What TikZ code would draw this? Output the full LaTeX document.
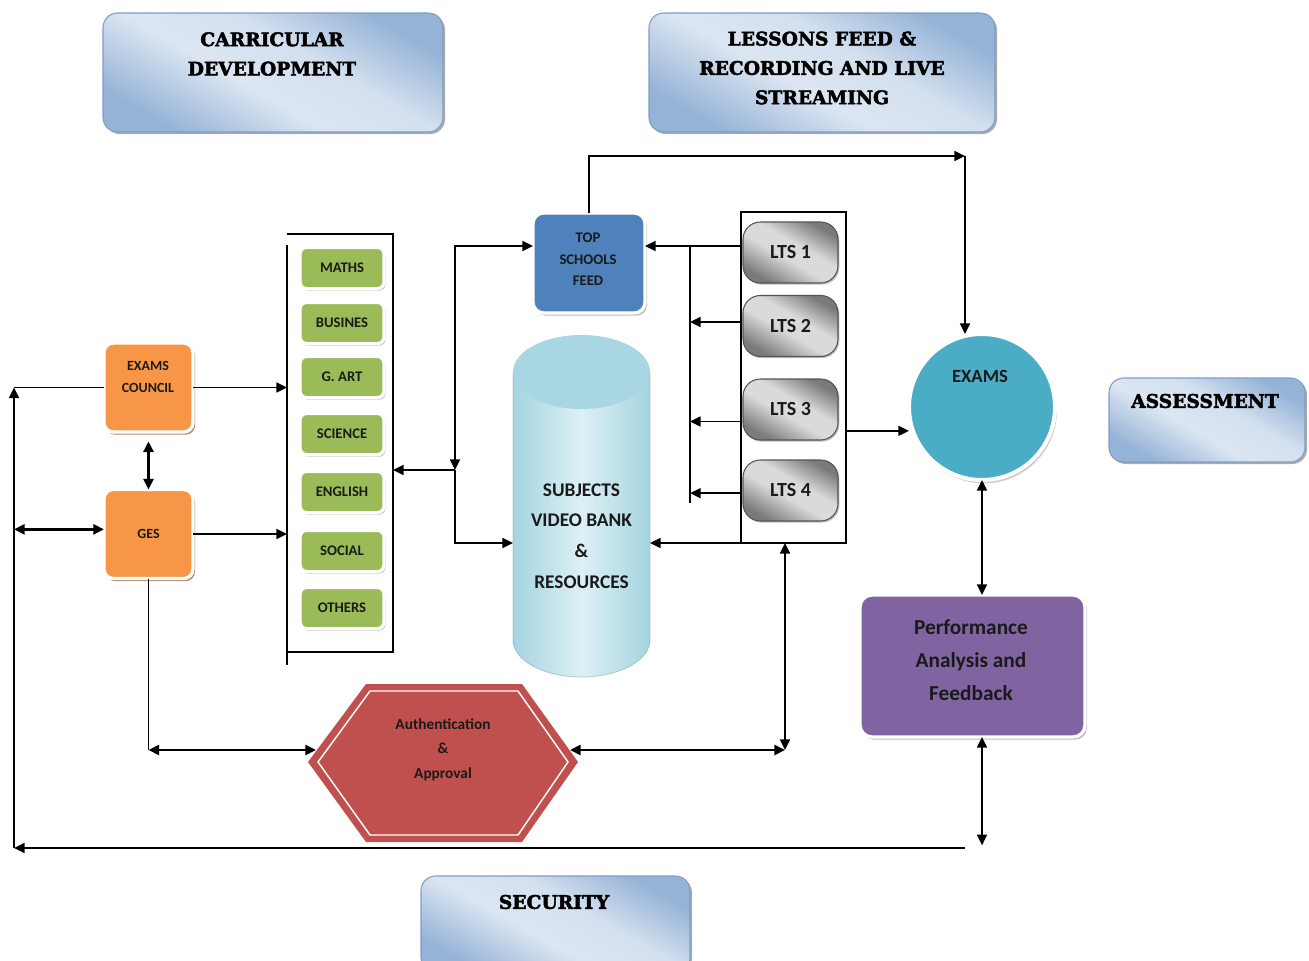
\documentclass[tikz,border=0pt]{standalone}
\usepackage{fontspec}
\setmainfont{Carlito}
\newfontfamily\ttlfont[BoldFeatures={FakeBold=2.5}]{DejaVu Serif}
\usetikzlibrary{arrows.meta,shadows,calc}
\definecolor{tlight}{HTML}{DCE6F2}
\definecolor{tdark}{HTML}{95B3D7}
\definecolor{tborder}{HTML}{7F9DC6}
\definecolor{sgreen}{HTML}{9BBB59}
\definecolor{sorange}{HTML}{F79646}
\definecolor{sblue}{HTML}{4F81BD}
\definecolor{steal}{HTML}{4BACC6}
\definecolor{spurple}{HTML}{8064A2}
\definecolor{sred}{HTML}{C0504D}
\definecolor{cylA}{HTML}{A5D4E1}
\definecolor{cylB}{HTML}{DDF0F5}
\definecolor{cylTop}{HTML}{A8D6E3}
\definecolor{gdark}{HTML}{7A7A7A}
\definecolor{glight}{HTML}{DADADA}
\definecolor{txt}{HTML}{1A1A1A}
\pgfdeclarehorizontalshading{tband}{100bp}{color(0bp)=(tdark); color(25bp)=(tdark); color(44bp)=(tlight); color(58bp)=(tlight!88!tdark); color(75bp)=(tdark); color(100bp)=(tdark)}
\pgfdeclarehorizontalshading{gband}{100bp}{color(0bp)=(gdark); color(25bp)=(gdark); color(45bp)=(glight); color(57bp)=(glight); color(75bp)=(gdark); color(100bp)=(gdark)}
\begin{document}
\begin{tikzpicture}[x=0.75pt,y=-0.75pt,
  tip/.tip={Triangle[length=8pt,width=7.5pt]},
  ln/.style={line width=1.2pt, draw=black},
  arr/.style={ln, -tip},
  arr2/.style={ln, tip-tip},
  dbl/.style={line width=2pt, tip-tip},
  ttl/.style={rounded corners=11pt, draw=tborder, line width=0.8pt, shading=tband, shading angle=60,
    drop shadow={shadow xshift=1.5pt, shadow yshift=-1.5pt, fill=black!55, opacity=0.6},
    inner sep=0pt, outer sep=0pt},
  ttltext/.style={font=\ttlfont\bfseries\fontsize{14}{22}\selectfont, align=center, text=black},
  boxbase/.style={draw=white, line width=2.5pt, inner sep=0pt, outer sep=0pt, text=txt, align=center},
  subj/.style={boxbase, fill=sgreen, rounded corners=5pt, minimum width=63pt, minimum height=31pt,
    font=\bfseries\fontsize{11}{13}\selectfont,
    drop shadow={shadow xshift=1.2pt, shadow yshift=-1.5pt, fill=black!45, opacity=0.6}},
  obox/.style={boxbase, fill=sorange, rounded corners=7pt, minimum width=66.75pt, minimum height=66.75pt,
    font=\bfseries\fontsize{10.5}{16.5}\selectfont,
    drop shadow={shadow xshift=1.5pt, shadow yshift=-2pt, fill=sorange!60!black, opacity=0.7}},
  stext/.style={font=\bfseries\fontsize{10.5}{16.5}\selectfont, align=center, text=txt},
  lts/.style={draw=gdark!70!black, line width=0.8pt, rounded corners=13pt, shading=gband, shading angle=60,
    minimum width=71.25pt, minimum height=45.75pt, inner sep=0pt, outer sep=0pt,
    font=\bfseries\fontsize{15}{17}\selectfont, text=txt,
    drop shadow={shadow xshift=1pt, shadow yshift=-1.2pt, fill=black!50, opacity=0.5}}
]
\useasboundingbox (0,0) rectangle (1309,960);

% ---------- title boxes ----------
\node[ttl, minimum width=255pt, minimum height=89.25pt] (cd) at (273,72.5) {};
\node[ttltext] (cdt) at (272,54) {CARRICULAR\\DEVELOPMENT};
\node[ttl, minimum width=259.5pt, minimum height=89.25pt] (lf) at (822,72.5) {};
\node[ttltext] (lft) at (822,68) {LESSONS FEED \&\\RECORDING AND LIVE\\STREAMING};
\node[ttl, minimum width=147pt, minimum height=63pt] (as) at (1207,420) {};
\node[ttltext] (ast) at (1205,401) {ASSESSMENT};
\node[ttl, minimum width=201.75pt, minimum height=72pt] (se) at (555.5,924) {};
\node[ttltext] (set) at (554,902) {SECURITY};

% ---------- subjects frame ----------
\coordinate (sfTL) at (287,234);
\coordinate (sfTR) at (393,234);
\coordinate (sfBR) at (393,652);
\coordinate (sfBL) at (287,652);
\coordinate (sfLT) at (287,245);
\coordinate (sfLB) at (287,665);
\draw[ln] (sfTL) -- (sfTR) -- (sfBR) -- (sfBL);
\draw[ln] (sfLT) -- (sfLB);

\node[subj] (maths) at (342,268) {MATHS};
\node[subj] (busi) at (342,323) {BUSINES};
\node[subj] (gart) at (342,377) {G. ART};
\node[subj] (sci) at (342,434) {SCIENCE};
\node[subj] (eng) at (342,492) {ENGLISH};
\node[subj] (soc) at (342,551) {SOCIAL};
\node[subj] (oth) at (342,608) {OTHERS};

% ---------- orange boxes ----------
\node[obox] (ec) at (148.5,387.5) {};
\node[stext] (ect) at (148,377) {EXAMS\\COUNCIL};
\node[obox] (ges) at (148.5,534) {GES};

% ---------- top schools feed ----------
\node[boxbase, fill=sblue, rounded corners=8pt, minimum width=84pt, minimum height=75pt,
  font=\bfseries\fontsize{11}{16}\selectfont,
  drop shadow={shadow xshift=1.5pt, shadow yshift=-2pt, fill=black!45, opacity=0.6}] (tsf) at (589,263) {};
\node[stext, font=\bfseries\fontsize{11}{16}\selectfont] (tsft) at (588,259.5) {TOP\\SCHOOLS\\FEED};

% ---------- cylinder ----------
\path[left color=cylA, right color=cylA, middle color=cylB]
  (513,372) -- (513,640) arc[start angle=180, end angle=360, x radius=51.375pt, y radius=27.75pt] -- (650,372) -- cycle;
\draw[cylA!75!black, line width=0.6pt, opacity=0.5]
  (650,372) -- (650,640) arc[start angle=0, end angle=-180, x radius=51.375pt, y radius=27.75pt] -- (513,372);
\fill[cylTop] (581.5,372) ellipse[x radius=51.375pt, y radius=27.75pt];
\node[font=\bfseries\fontsize{14.5}{23}\selectfont, align=center, text=txt, minimum width=102.75pt,
  inner sep=0pt, outer sep=0pt] (cyl) at (581.5,536) {SUBJECTS\\VIDEO BANK\\\&\\RESOURCES};

% ---------- hexagon ----------
\fill[sred] (308,762) -- (366,684) -- (522,684) -- (578,762) -- (522,842) -- (366,842) -- cycle;
\draw[white, line width=1.1pt] (318,762) -- (370,691) -- (518,691) -- (568,762) -- (518,835) -- (370,835) -- cycle;
\node[font=\bfseries\fontsize{11.5}{18.4}\selectfont, align=center, text=txt] (hex) at (443,749.5) {Authentication\\\&\\Approval};
\coordinate (hexW) at (316,750);
\coordinate (hexE) at (570,750);

% ---------- LTS ----------
\node[draw, line width=0.9pt, minimum width=78.75pt, minimum height=248.25pt, inner sep=0pt, outer sep=0pt] (ltsF) at (793.5,377.5) {};
\node[lts] (lts1) at (790.5,252.5) {LTS 1};
\node[lts] (lts2) at (790.5,326) {LTS 2};
\node[lts] (lts3) at (790.5,409.5) {LTS 3};
\node[lts] (lts4) at (790.5,490.5) {LTS 4};

% ---------- exams ----------
\node[circle, fill=steal, draw=white, line width=3pt, minimum size=109.5pt, inner sep=0pt, outer sep=0pt,
  drop shadow={shadow xshift=1.5pt, shadow yshift=-2.5pt, fill=black!40, opacity=0.5}] (exams) at (982,407) {};
\node[font=\bfseries\fontsize{14}{16}\selectfont, text=txt] (examst) at (980,376) {EXAMS};

% ---------- performance ----------
\node[boxbase, fill=spurple, rounded corners=9pt, minimum width=168.75pt, minimum height=106.5pt,
  drop shadow={shadow xshift=1.5pt, shadow yshift=-2pt, fill=black!45, opacity=0.6}] (perf) at (972.5,666) {};
\node[font=\bfseries\fontsize{16}{25}\selectfont, align=center, text=txt] (perft) at (971,660) {Performance\\Analysis and\\Feedback};

% ---------- coordinates ----------
\coordinate (busT) at (690,246);
\coordinate (busB) at (690,503);
\coordinate (J) at (455,470);
\coordinate (TR) at (965,156);
\coordinate (BL) at (14,848);
\coordinate (gesB) at (148.5,750);
\coordinate (R1) at (785,750);
\coordinate (BR) at (965,848);

% ---------- connectors ----------
\draw[arr] (ec.east) -- (ec.east -| sfBL);
\draw[arr] (ges.east) -- (ges.east -| sfBL);
\draw[dbl] ([yshift=-7pt]ec.south) -- (ges.north);
\draw[ln] (ec.west) -- (ec.west -| BL);
\draw[arr] (BL) -- (ec.west -| BL);
\draw[dbl] ([yshift=3.5pt]ges.west) -- ([yshift=3.5pt]ges.west -| BL);
\draw[ln] (ges.south) -- (gesB);
\draw[dbl] (gesB) -- (hexW);
\draw[dbl] (hexE) -- (R1);
\draw[arr2] (ltsF.south -| R1) -- (R1);
\draw[arr] (BR) -- (BL);
\draw[arr2] (perf.south -| exams.south) -- ([yshift=2pt]BR -| exams.south);
\draw[arr2] (exams.south) -- (perf.north -| exams.south);
\draw[arr] ([yshift=-40pt]ltsF.east) -- ([yshift=-40pt]ltsF.east -| exams.west);
\draw[arr] (ltsF.south west) -- (ltsF.south west -| cyl.east);
\draw[arr] (busT -| ltsF.west) -- (busT -| tsf.east);
\draw[ln] (busT) -- (busB);
\draw[arr] ([yshift=3pt]lts2.west -| ltsF.west) -- ([yshift=3pt]lts2.west -| busT);
\draw[arr] ([yshift=-9pt]lts3.west -| ltsF.west) -- ([yshift=-9pt]lts3.west -| busT);
\draw[arr] ([yshift=-2pt]lts4.west -| ltsF.west) -- ([yshift=-2pt]lts4.west -| busT);
\draw[arr] (tsf.north) |- (TR);
\draw[arr] (TR) -- (TR |- exams.north);
\draw[arr2] (J) |- (busT -| tsf.west);
\draw[arr] (J) -- (J -| sfTR);
\draw[arr] (J) |- (cyl.west |- ltsF.south);
\end{tikzpicture}
\end{document}
